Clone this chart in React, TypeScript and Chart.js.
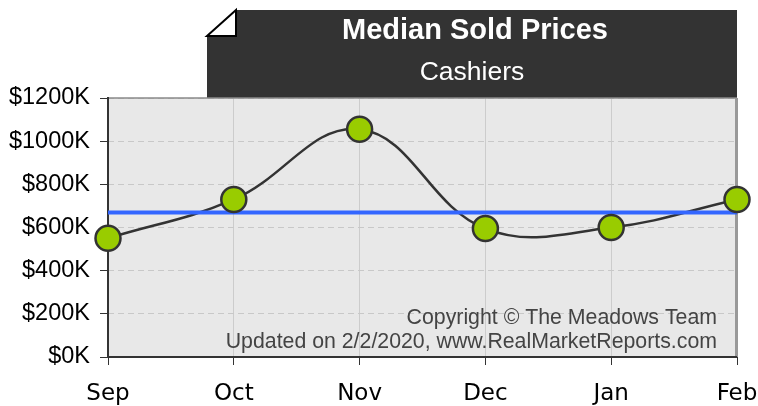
import React, { useEffect, useRef } from "react";
import { Chart, registerables } from "chart.js";

Chart.register(...registerables);

// ---- data ----
const months = ["Sep", "Oct", "Nov", "Dec", "Jan", "Feb"];
const medianPrices = [550, 730, 1055, 595, 600, 730]; // in $K
const averagePrice = [669, 669, 669, 669, 669, 669]; // in $K
const yTickValues = [0, 200, 400, 600, 800, 1000, 1200];
const yTickLabels = ["$0K", "$200K", "$400K", "$600K", "$800K", "$1000K", "$1200K"];
const titleText = "Median Sold Prices";
const subtitleText = "Cashiers";
const copyrightLines = [
  "Copyright © The Meadows Team",
  "Updated on 2/2/2020, www.RealMarketReports.com",
];

const decorPlugin = {
  id: "decor",
  beforeDraw(chart: any) {
    const { ctx, chartArea: a } = chart;
    ctx.save();
    // plot background
    ctx.fillStyle = "#e8e8e8";
    ctx.fillRect(a.left, a.top, a.right - a.left, a.bottom - a.top);

    // title box with folded corner
    const bx = 207;
    const by = 10;
    const fold = 27;
    const br = a.right;
    const bb = a.top;
    ctx.fillStyle = "#333333";
    ctx.beginPath();
    ctx.moveTo(bx + fold + 2, by);
    ctx.lineTo(br, by);
    ctx.lineTo(br, bb);
    ctx.lineTo(bx, bb);
    ctx.lineTo(bx, by + fold - 1);
    ctx.lineTo(bx + fold + 2, by + fold - 1);
    ctx.closePath();
    ctx.fill();
    // folded triangle
    ctx.fillStyle = "#ffffff";
    ctx.strokeStyle = "#000000";
    ctx.lineWidth = 2;
    ctx.beginPath();
    ctx.moveTo(bx, by + fold - 1);
    ctx.lineTo(bx + fold + 2, by);
    ctx.lineTo(bx + fold + 2, by + fold - 1);
    ctx.closePath();
    ctx.fill();
    ctx.stroke();

    // title texts
    ctx.fillStyle = "#ffffff";
    ctx.textAlign = "center";
    ctx.textBaseline = "alphabetic";
    ctx.font = "bold 29px 'Liberation Sans', Arial, sans-serif";
    ctx.fillText(titleText, 475, 39);
    ctx.font = "26.5px 'Liberation Sans', Arial, sans-serif";
    ctx.fillText(subtitleText, 472, 80);
    ctx.restore();
  },
  beforeDatasetsDraw(chart: any) {
    const { ctx, chartArea: a } = chart;
    ctx.save();
    // frame
    ctx.strokeStyle = "#8a8a8a";
    ctx.lineWidth = 1.5;
    ctx.beginPath();
    ctx.moveTo(a.left, a.top);
    ctx.lineTo(a.right, a.top);
    ctx.stroke();
    ctx.strokeStyle = "#999999";
    ctx.lineWidth = 3;
    ctx.beginPath();
    ctx.moveTo(a.right - 0.5, a.top);
    ctx.lineTo(a.right - 0.5, a.bottom);
    ctx.stroke();
    ctx.strokeStyle = "#333333";
    ctx.lineWidth = 2;
    ctx.beginPath();
    ctx.moveTo(a.left, a.top - 1);
    ctx.lineTo(a.left, a.bottom);
    ctx.lineTo(a.right, a.bottom);
    ctx.stroke();

    // copyright
    ctx.fillStyle = "#444444";
    ctx.textAlign = "right";
    ctx.textBaseline = "alphabetic";
    ctx.font = "21.3px 'Liberation Sans', Arial, sans-serif";
    ctx.fillText(copyrightLines[0], 717, 324);
    ctx.fillText(copyrightLines[1], 717, 348);
    ctx.restore();
  },
};

export default function App() {
  const canvasRef = useRef<HTMLCanvasElement | null>(null);

  useEffect(() => {
    if (!canvasRef.current) return;
    const chart = new Chart(canvasRef.current, {
      type: "line",
      data: {
        labels: months,
        datasets: [
          {
            label: "Median",
            data: medianPrices,
            borderColor: "#333333",
            borderWidth: 2.5,
            tension: 0.4,
            pointRadius: 0,
            fill: false,
            order: 3,
            clip: false as any,
          },
          {
            label: "Average",
            data: averagePrice,
            borderColor: "#3366ff",
            borderWidth: 4,
            pointRadius: 0,
            fill: false,
            order: 2,
            clip: false as any,
          },
          {
            label: "MedianPoints",
            data: medianPrices,
            showLine: false,
            pointRadius: 12.5,
            pointBackgroundColor: "#99cc00",
            pointBorderColor: "#333333",
            pointBorderWidth: 2.5,
            order: 1,
            clip: false as any,
          },
        ],
      },
      options: {
        animation: false,
        responsive: false,
        maintainAspectRatio: false,
        layout: { padding: { top: 98, right: 21, left: 0, bottom: 0 } },
        plugins: {
          legend: { display: false },
          tooltip: { enabled: false },
        },
        scales: {
          x: {
            offset: false,
            ticks: {
              font: { family: "'DejaVu Sans'", size: 23 },
              color: "#000000",
              padding: 15,
              maxRotation: 0,
              autoSkip: false,
            },
            grid: {
              color: "#cccccc",
              tickColor: "#333333",
              tickLength: 8,
              lineWidth: 1,
              offset: false,
            },
            border: { display: false },
            afterFit: (s: any) => {
              s.height = 49;
              s.paddingLeft = 0;
              s.paddingRight = 0;
            },
          },
          y: {
            min: yTickValues[0],
            max: yTickValues[yTickValues.length - 1],
            ticks: {
              stepSize: yTickValues[1] - yTickValues[0],
              callback: (_v: any, i: number) => yTickLabels[i],
              font: { family: "'Liberation Sans'", size: 23.5 },
              color: "#000000",
              padding: 10,
            },
            grid: {
              color: "#c8c8c8",
              tickColor: "#333333",
              tickLength: 8,
              lineWidth: 1,
            },
            border: { display: false, dash: [6, 4] },
            afterFit: (s: any) => {
              s.width = 108;
              s.paddingTop = 0;
              s.paddingBottom = 0;
            },
          },
        },
      },
      plugins: [decorPlugin],
    });
    return () => chart.destroy();
  }, []);

  return (
    <div style={{ position: "fixed", left: 0, top: 0, width: 758, height: 406, background: "#ffffff" }}>
      <canvas ref={canvasRef} width={758} height={406} style={{ display: "block" }} />
    </div>
  );
}
